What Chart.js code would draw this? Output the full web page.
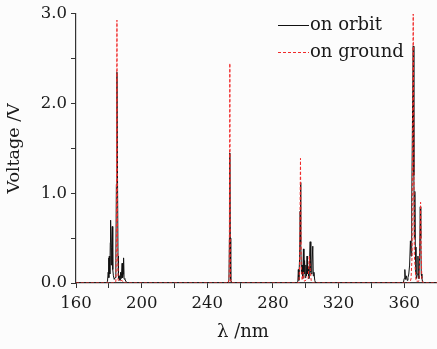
<!DOCTYPE html>
<html>
<head>
<meta charset="utf-8">
<script src="https://cdn.jsdelivr.net/npm/chart.js@4/dist/chart.umd.min.js"></script>
<style>
  html, body { margin: 0; padding: 0; background: #fcfcfc; }
  #wrap { width: 437px; height: 349px; }
</style>
</head>
<body>
<div id="wrap"><canvas id="myChart" width="437" height="349"></canvas></div>
<script>
// Series labels
var seriesNames = ['on orbit', 'on ground'];

// On-orbit spectrum (wavelength nm / voltage V)
var orbitWl = [160, 178.5, 179.2, 179.6, 179.9, 180.1, 180.3, 180.6, 180.9, 181.1, 181.4, 181.7, 182.1, 182.4, 182.8,
  183.3, 183.8, 184.3, 184.6, 184.95, 185.3, 185.6, 185.9, 186.4, 186.8, 187.2, 187.6, 188.1, 188.4, 188.7, 189.0,
  189.3, 189.8, 191,
  252.5, 253.2, 253.5, 253.75, 254.0, 254.3, 254.8, 255.5,
  294.5, 295.2, 295.5, 295.8, 296.3, 296.6, 296.8, 297.1, 297.4, 297.8, 298.2, 298.6, 298.9, 299.3, 299.7, 300.1,
  300.5, 300.8, 301.1, 301.5, 301.9, 302.3, 302.7, 303.1, 303.5, 303.8, 304.3, 304.6, 305.0, 305.5, 306,
  359.5, 360.0, 360.4, 360.8, 361.3, 361.8, 362.3, 362.8, 363.3, 363.8, 364.2, 364.6, 365.0, 365.5, 365.9, 366.2,
  366.5, 366.8, 367.2, 367.6, 368.0, 368.4, 368.7, 369.0, 369.4, 369.8, 370.1, 370.4, 370.8, 371.2, 372, 380];
var orbitV = [0, 0, 0.02, 0.12, 0.28, 0.06, 0.30, 0.10, 0.45, 0.70, 0.20, 0.40, 0.63, 0.15, 0.08,
  0.04, 0.06, 0.25, 1.1, 2.35, 1.2, 0.3, 0.05, 0.08, 0.03, 0.12, 0.05, 0.22, 0.06, 0.10, 0.28,
  0.05, 0.04, 0,
  0, 0.03, 0.5, 1.45, 0.5, 0.03, 0.01, 0,
  0, 0.02, 0.15, 0.03, 0.3, 0.8, 1.12, 0.45, 0.1, 0.2, 0.05, 0.38, 0.1, 0.25, 0.06, 0.2,
  0.08, 0.3, 0.1, 0.18, 0.05, 0.25, 0.46, 0.12, 0.1, 0.2, 0.41, 0.08, 0.12, 0.03, 0,
  0, 0.05, 0.15, 0.04, 0.08, 0.03, 0.06, 0.1, 0.2, 0.47, 0.3, 0.9, 1.7, 2.64, 1.2, 0.5,
  1.02, 0.4, 0.1, 0.05, 0.1, 0.3, 0.08, 0.05, 0.3, 0.85, 0.5, 0.1, 0.05, 0.02, 0, 0];

// On-ground spectrum
var groundWl = [160, 183.8, 184.3, 184.6, 184.95, 185.3, 185.7, 186.5, 188, 189,
  253.0, 253.4, 253.75, 254.1, 254.5,
  295.8, 296.3, 296.8, 297.3, 297.8, 298.6, 299.2, 301.5, 302.2, 302.8, 303.3, 304,
  363.5, 364.2, 364.8, 365.5, 366.2, 366.6, 367.2, 369.0, 369.6, 370.0, 370.4, 370.8, 372, 380];
var groundV = [0, 0, 0.02, 0.4, 2.93, 0.4, 0.03, 0.02, 0.03, 0,
  0, 0.1, 2.45, 0.1, 0,
  0, 0.2, 1.39, 0.2, 0.03, 0.12, 0.02, 0.05, 0.3, 0.15, 0.03, 0,
  0, 0.05, 0.3, 3.0, 0.3, 0.2, 0.02, 0.02, 0.4, 0.9, 0.3, 0.02, 0, 0];

// Axis ranges / tick labels
var xMin = 160, xMax = 380, xLabels = [160, 200, 240, 280, 320, 360];
var yMin = 0, yMax = 3, yLabels = [0, 1, 2, 3];

function toPoints(xs, ys) {
  return xs.map(function (x, i) { return { x: x, y: ys[i] }; });
}

var serif = "'DejaVu Serif', serif";

// simple legend drawn inside the plot, top right
var lineLegend = {
  id: 'lineLegend',
  afterDraw: function (chart) {
    var ctx = chart.ctx;
    var items = [chart.data.datasets[1], chart.data.datasets[0]];
    ctx.save();
    ctx.font = '18px ' + serif;
    ctx.textBaseline = 'middle';
    items.forEach(function (ds, i) {
      var y = 25 + i * 27;
      ctx.strokeStyle = ds.borderColor;
      ctx.lineWidth = 1;
      ctx.setLineDash(ds.borderDash || []);
      ctx.beginPath();
      ctx.moveTo(278, y + 0.5);
      ctx.lineTo(309, y + 0.5);
      ctx.stroke();
      ctx.fillStyle = '#1a1a1a';
      ctx.fillText(ds.label, 310, y);
    });
    ctx.restore();
  }
};

var ctx = document.getElementById('myChart').getContext('2d');
var myChart = new Chart(ctx, {
  type: 'line',
  data: {
    datasets: [{
      label: seriesNames[1],
      data: toPoints(groundWl, groundV),
      borderColor: '#f02a2a',
      borderWidth: 1,
      borderDash: [3, 2],
      pointRadius: 0,
      tension: 0
    }, {
      label: seriesNames[0],
      data: toPoints(orbitWl, orbitV),
      borderColor: '#111111',
      borderWidth: 1,
      pointRadius: 0,
      tension: 0
    }]
  },
  options: {
    responsive: false,
    animation: false,
    layout: { padding: { top: 13, right: 0, left: 0, bottom: 0 } },
    plugins: { legend: { display: false }, tooltip: { enabled: false } },
    scales: {
      x: {
        type: 'linear',
        min: xMin, max: xMax,
        afterFit: function (s) { s.height = 66; },
        afterBuildTicks: function (s) {
          s.ticks = s.ticks.filter(function (t) { return t.value < xMax; });
        },
        ticks: {
          stepSize: 20,
          color: '#1a1a1a',
          font: { family: serif, size: 16.5 },
          padding: 6,
          maxRotation: 0,
          autoSkip: false,
          callback: function (v) { return xLabels.indexOf(v) >= 0 ? String(v) : ''; }
        },
        grid: { drawOnChartArea: false, drawTicks: true, tickLength: 5, color: '#333' },
        border: { display: true, color: '#333', width: 1.2 },
        title: {
          display: true, text: 'λ /nm\u2003\u2002', color: '#1a1a1a',
          font: { family: serif, size: 18 },
          padding: { top: 0, bottom: 6 }
        }
      },
      y: {
        min: yMin, max: yMax,
        afterFit: function (s) { s.width = 76; },
        ticks: {
          stepSize: 0.5,
          color: '#1a1a1a',
          font: { family: serif, size: 16.5 },
          padding: 4,
          autoSkip: false,
          callback: function (v) { return yLabels.indexOf(v) >= 0 ? v.toFixed(1) : ''; }
        },
        grid: { drawOnChartArea: false, drawTicks: true, tickLength: 5, color: '#333' },
        border: { display: true, color: '#333', width: 1.2 },
        title: {
          display: true, text: 'Voltage /V', color: '#1a1a1a',
          font: { family: serif, size: 17.5 },
          padding: { top: 4, bottom: 0 }
        }
      }
    }
  },
  plugins: [lineLegend]
});
</script>
</body>
</html>
